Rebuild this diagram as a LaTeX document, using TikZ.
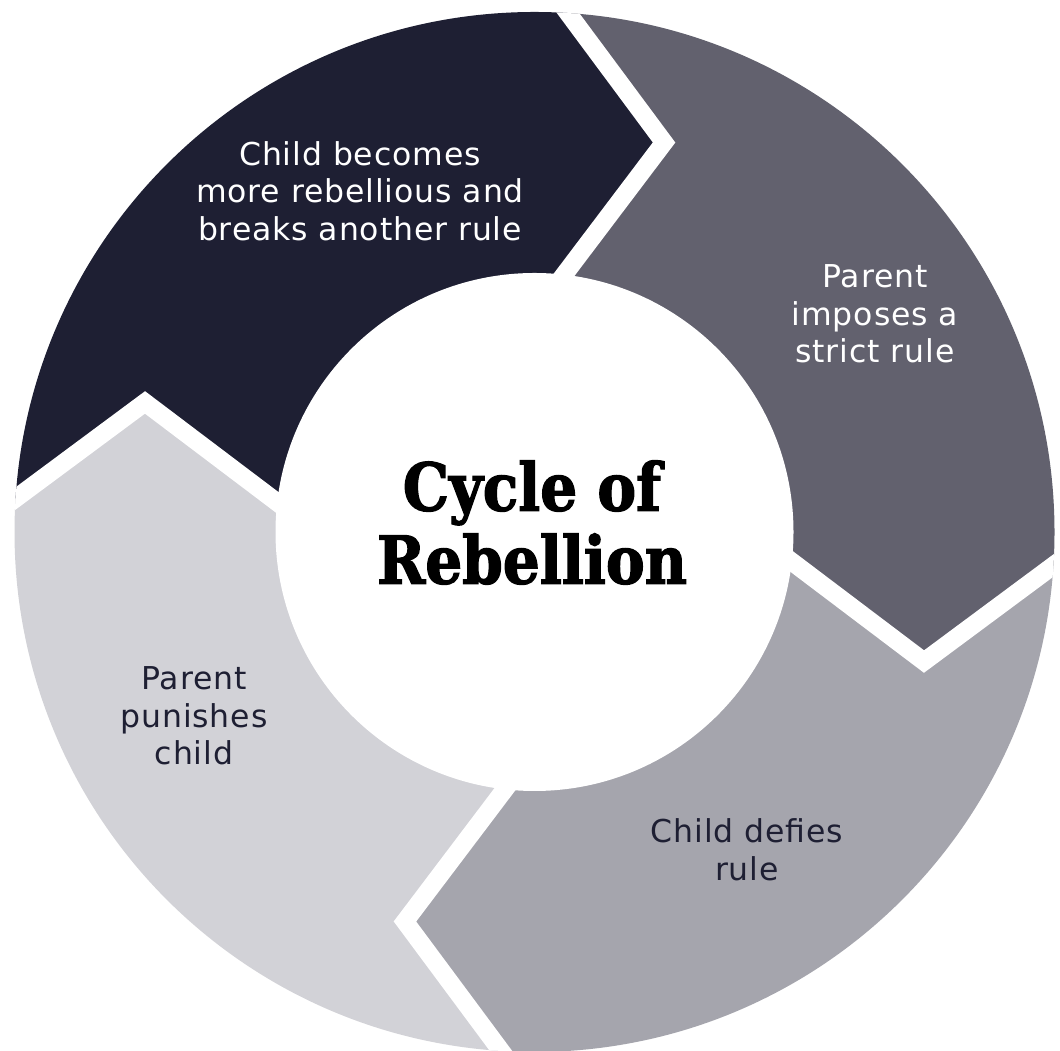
\documentclass[tikz,border=0pt]{standalone}
\usepackage{fontspec}
\usetikzlibrary{calc}
\newfontfamily\lblfont[LetterSpace=2.8]{DejaVu Sans}
\newfontfamily\ttlfont[FakeStretch=0.88,FakeBold=2]{DejaVu Serif}
\definecolor{segA}{RGB}{30,31,51}
\definecolor{segB}{RGB}{98,97,110}
\definecolor{segC}{RGB}{165,165,173}
\definecolor{segD}{RGB}{210,210,215}
\begin{document}
\begin{tikzpicture}[x=1pt,y=1pt,
  lbl/.style={font=\lblfont\fontsize{31.5}{37.5}\selectfont, align=center, inner sep=0pt},
  ttl/.style={font=\ttlfont\bfseries\fontsize{66}{73}\selectfont, align=center, inner sep=0pt},
  gapline/.style={draw=white, line width=18pt, line join=miter, miter limit=10}]
\fill[white] (0,0) rectangle (1060,1051);
\useasboundingbox (0,0) rectangle (1060,1051);
\coordinate (C) at (534.5,519);
\foreach \k in {0,1,2,3}{
  \pgfmathsetmacro{\angT}{71.6-90*\k}
  \pgfmathsetmacro{\angO}{\angT+14.7}
  \pgfmathsetmacro{\angI}{\angT+11.7}
  \coordinate (T\k) at ($(C)+(\angT:410.5pt)$);
  \coordinate (O\k) at ($(C)+(\angO:520pt)$);
  \coordinate (I\k) at ($(C)+(\angI:260pt)$);
  \coordinate (OE\k) at ($(T\k)!2.0!(O\k)$);
  \coordinate (IE\k) at ($(T\k)!1.1!(I\k)$);
}
\begin{scope}
  \clip (C) circle (520pt);
  \foreach \a/\b/\col in {3/0/segA, 0/1/segB, 1/2/segC, 2/3/segD}{
    \pgfmathsetmacro{\fa}{71.6-90*\a-1.1}
    \pgfmathsetmacro{\fb}{71.6-90*\a-41.1}
    \fill[\col] (C) -- (IE\a) -- (T\a) -- (OE\a) -- ($(C)+(\fa:1000pt)$) -- ($(C)+(\fb:1000pt)$) -- (OE\b) -- (T\b) -- (IE\b) -- cycle;
  }
  \foreach \k in {0,1,2,3}{
    \draw[gapline] (OE\k) -- (T\k) -- (IE\k);
  }
\end{scope}
\fill[white] (C) circle (259pt);
\node[lbl, text=white] (t1) at (360,860) {Child becomes\\more rebellious and\\breaks another rule};
\node[lbl, text=white] (t2) at (875,737) {Parent\\imposes a\\strict rule};
\node[lbl, text=segA] (t3) at (747,201) {Child defies\\rule};
\node[lbl, text=segA] (t4) at (194,335) {Parent\\punishes\\child};
\node[ttl, text=black] (title) at (532,528.5) {Cycle of\\Rebellion};
\end{tikzpicture}
\end{document}
